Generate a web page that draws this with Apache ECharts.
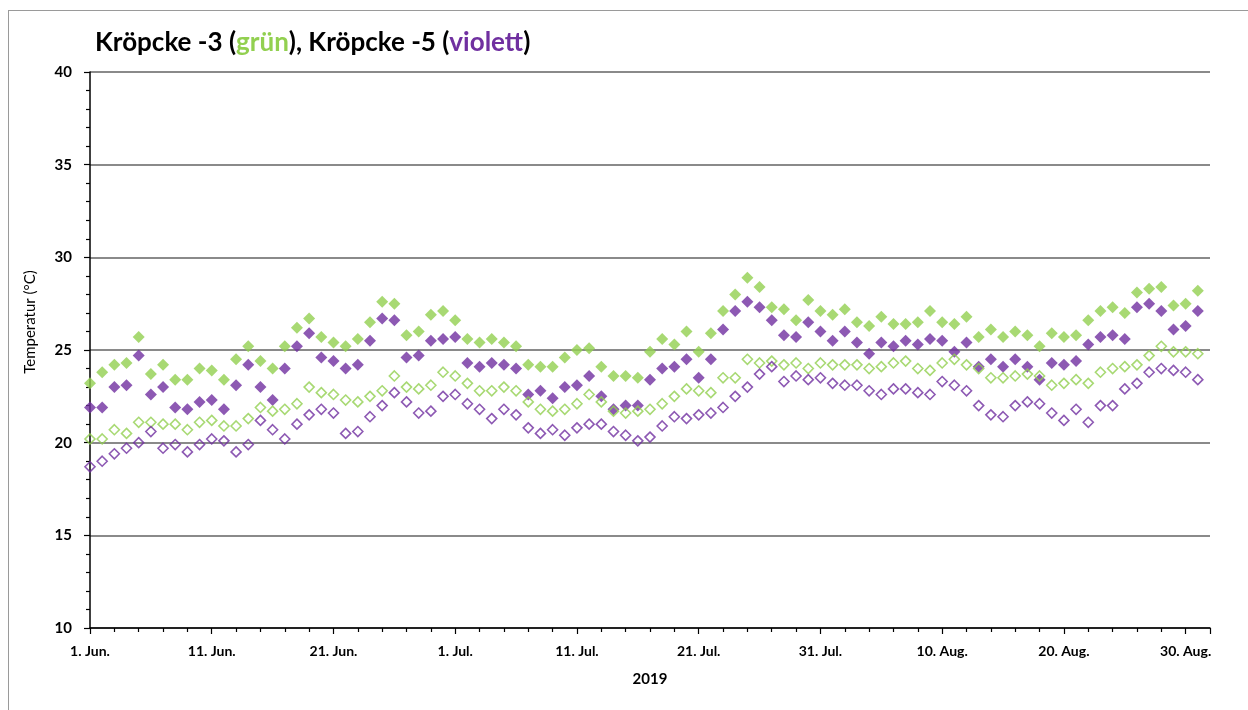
<!DOCTYPE html>
<html lang="de">
<head>
    <meta charset="UTF-8">
    <title>Kröpcke</title>
    <script src="https://cdn.jsdelivr.net/npm/echarts@6/dist/echarts.min.js"></script>
    <style>
        *{
            margin: 0;
            padding: 0;
        }
        body{
            background: #fff;
            overflow: hidden;
        }
        #box{
            width: 1248px;
            height: 710px;
        }
        #rahmen{
            position: absolute;
            left: 8px;
            top: 10px;
            width: 1300px;
            height: 760px;
            border: 1.5px solid #9a9a9a;
            pointer-events: none;
        }
    </style>
</head>
<body>
<div id="box"></div>
<div id="rahmen"></div>
<script type="text/javascript">
    // Tageswerte 1. Jun. - 31. Aug. 2019
    let gruenVoll = [23.2, 23.8, 24.2, 24.3, 25.7, 23.7, 24.2, 23.4, 23.4, 24.0, 23.9, 23.4, 24.5, 25.2, 24.4, 24.0,
        25.2, 26.2, 26.7, 25.7, 25.4, 25.2, 25.6, 26.5, 27.6, 27.5, 25.8, 26.0, 26.9, 27.1, 26.6, 25.6,
        25.4, 25.6, 25.4, 25.2, 24.2, 24.1, 24.1, 24.6, 25.0, 25.1, 24.1, 23.6, 23.6, 23.5, 24.9,
        25.6, 25.3, 26.0, 24.9, 25.9, 27.1, 28.0, 28.9, 28.4, 27.3, 27.2, 26.6, 27.7, 27.1, 26.9, 27.2,
        26.5, 26.3, 26.8, 26.4, 26.4, 26.5, 27.1, 26.5, 26.4, 26.8, 25.7, 26.1, 25.7, 26.0, 25.8,
        25.2, 25.9, 25.7, 25.8, 26.6, 27.1, 27.3, 27.0, 28.1, 28.3, 28.4, 27.4, 27.5, 28.2];
    let violettVoll = [21.9, 21.9, 23.0, 23.1, 24.7, 22.6, 23.0, 21.9, 21.8, 22.2, 22.3, 21.8, 23.1, 24.2, 23.0, 22.3,
        24.0, 25.2, 25.9, 24.6, 24.4, 24.0, 24.2, 25.5, 26.7, 26.6, 24.6, 24.7, 25.5, 25.6, 25.7, 24.3,
        24.1, 24.3, 24.2, 24.0, 22.6, 22.8, 22.4, 23.0, 23.1, 23.6, 22.5, 21.8, 22.0, 22.0, 23.4,
        24.0, 24.1, 24.5, 23.5, 24.5, 26.1, 27.1, 27.6, 27.3, 26.6, 25.8, 25.7, 26.5, 26.0, 25.5, 26.0,
        25.4, 24.8, 25.4, 25.2, 25.5, 25.3, 25.6, 25.5, 24.9, 25.4, 24.1, 24.5, 24.1, 24.5, 24.1,
        23.4, 24.3, 24.2, 24.4, 25.3, 25.7, 25.8, 25.6, 27.3, 27.5, 27.1, 26.1, 26.3, 27.1];
    let gruenLeer = [20.2, 20.2, 20.7, 20.5, 21.1, 21.1, 21.0, 21.0, 20.7, 21.1, 21.2, 20.9, 20.9, 21.3, 21.9, 21.7,
        21.8, 22.1, 23.0, 22.7, 22.6, 22.3, 22.2, 22.5, 22.8, 23.6, 23.0, 22.9, 23.1, 23.8, 23.6, 23.2,
        22.8, 22.8, 23.0, 22.8, 22.2, 21.8, 21.7, 21.8, 22.1, 22.6, 22.2, 21.7, 21.6, 21.7, 21.8,
        22.1, 22.5, 22.9, 22.8, 22.7, 23.5, 23.5, 24.5, 24.3, 24.4, 24.2, 24.3, 24.0, 24.3, 24.2, 24.2,
        24.2, 24.0, 24.1, 24.3, 24.4, 24.0, 23.9, 24.3, 24.5, 24.2, 24.0, 23.5, 23.5, 23.6, 23.7,
        23.6, 23.1, 23.2, 23.4, 23.2, 23.8, 24.0, 24.1, 24.2, 24.7, 25.2, 24.9, 24.9, 24.8];
    let violettLeer = [18.7, 19.0, 19.4, 19.7, 20.0, 20.6, 19.7, 19.9, 19.5, 19.9, 20.2, 20.1, 19.5, 19.9, 21.2, 20.7,
        20.2, 21.0, 21.5, 21.8, 21.6, 20.5, 20.6, 21.4, 22.0, 22.7, 22.2, 21.6, 21.7, 22.5, 22.6, 22.1,
        21.8, 21.3, 21.8, 21.5, 20.8, 20.5, 20.7, 20.4, 20.8, 21.0, 21.0, 20.6, 20.4, 20.1, 20.3,
        20.9, 21.4, 21.3, 21.5, 21.6, 21.9, 22.5, 23.0, 23.7, 24.1, 23.3, 23.6, 23.4, 23.5, 23.2, 23.1,
        23.1, 22.8, 22.6, 22.9, 22.9, 22.7, 22.6, 23.3, 23.1, 22.8, 22.0, 21.5, 21.4, 22.0, 22.2,
        22.1, 21.6, 21.2, 21.8, 21.1, 22.0, 22.0, 22.9, 23.2, 23.8, 24.0, 23.9, 23.8, 23.4];
    // Achsenbeschriftung alle 10 Tage
    let datumLabels = ['1. Jun.', '11. Jun.', '21. Jun.', '1. Jul.', '11. Jul.', '21. Jul.', '31. Jul.', '10. Aug.', '20. Aug.', '30. Aug.'];

    const GRUEN = '#92d050';
    const VIOLETT = '#7030a0';
    const FONT = 'Lato';

    let chart = echarts.init(document.getElementById('box'));

    // [tag, wert]
    function paare(arr) {
        return arr.map((v, i) => [i, v]);
    }

    function voll(name, arr, farbe) {
        return {
            name,
            type: 'scatter',
            symbol: 'diamond',
            symbolSize: 12,
            data: paare(arr),
            itemStyle: {color: farbe},
            silent: true
        };
    }

    function leer(name, arr, farbe) {
        return {
            name,
            type: 'scatter',
            symbol: 'diamond',
            symbolSize: 10,
            data: paare(arr),
            itemStyle: {color: 'rgba(255,255,255,0)', borderColor: farbe, borderWidth: 1.6},
            silent: true
        };
    }

    let option = {
        animation: false,
        title: {
            text: '{s|Kröpcke -3 (}{g|grün}{s|), Kröpcke -5 (}{v|violett}{s|)}',
            left: 90,
            top: 25,
            textStyle: {
                rich: {
                    s: {color: '#000', fontSize: 26, fontWeight: 'bold', fontFamily: FONT},
                    g: {color: GRUEN, fontSize: 26, fontWeight: 'bold', fontFamily: FONT},
                    v: {color: VIOLETT, fontSize: 26, fontWeight: 'bold', fontFamily: FONT}
                }
            }
        },
        grid: {
            left: 90,
            right: 38,
            top: 72,
            bottom: 82
        },
        xAxis: {
            type: 'value',
            min: 0,
            max: 92,
            interval: 10,
            name: '2019',
            nameLocation: 'middle',
            nameGap: 44,
            nameTextStyle: {color: '#000', fontSize: 15, fontWeight: 'bold', fontFamily: FONT},
            axisLine: {lineStyle: {color: '#000', width: 1.5}},
            axisTick: {show: true, length: 6, lineStyle: {color: '#000', width: 1.2}},
            minorTick: {show: true, splitNumber: 5, length: 4, lineStyle: {color: '#000', width: 1.2}},
            splitLine: {show: false},
            axisLabel: {
                color: '#000',
                fontSize: 14,
                fontWeight: 'bold',
                fontFamily: FONT,
                margin: 16,
                showMaxLabel: false,
                formatter: v => datumLabels[v / 10] || ''
            }
        },
        yAxis: {
            type: 'value',
            min: 10,
            max: 40,
            interval: 5,
            axisLine: {show: true, lineStyle: {color: '#000', width: 1.5}},
            axisTick: {show: true, length: 6, lineStyle: {color: '#000', width: 1.2}},
            minorTick: {show: true, splitNumber: 5, length: 4, lineStyle: {color: '#000', width: 1.2}},
            splitLine: {show: true, lineStyle: {color: '#8a8a8a', width: 2}},
            axisLabel: {
                color: '#000',
                fontSize: 15,
                fontWeight: 'bold',
                fontFamily: FONT,
                margin: 18
            }
        },
        graphic: [{
            type: 'text',
            x: 30,
            y: 322,
            rotation: Math.PI / 2,
            style: {
                text: 'Temperatur (°C)',
                fill: '#000',
                font: '15px ' + FONT,
                align: 'center',
                verticalAlign: 'middle'
            }
        }],
        series: [
            voll('Kröpcke -3 max', gruenVoll, GRUEN),
            voll('Kröpcke -5 max', violettVoll, VIOLETT),
            leer('Kröpcke -3 min', gruenLeer, GRUEN),
            leer('Kröpcke -5 min', violettLeer, VIOLETT)
        ]
    };
    chart.setOption(option);
</script>
</body>
</html>
